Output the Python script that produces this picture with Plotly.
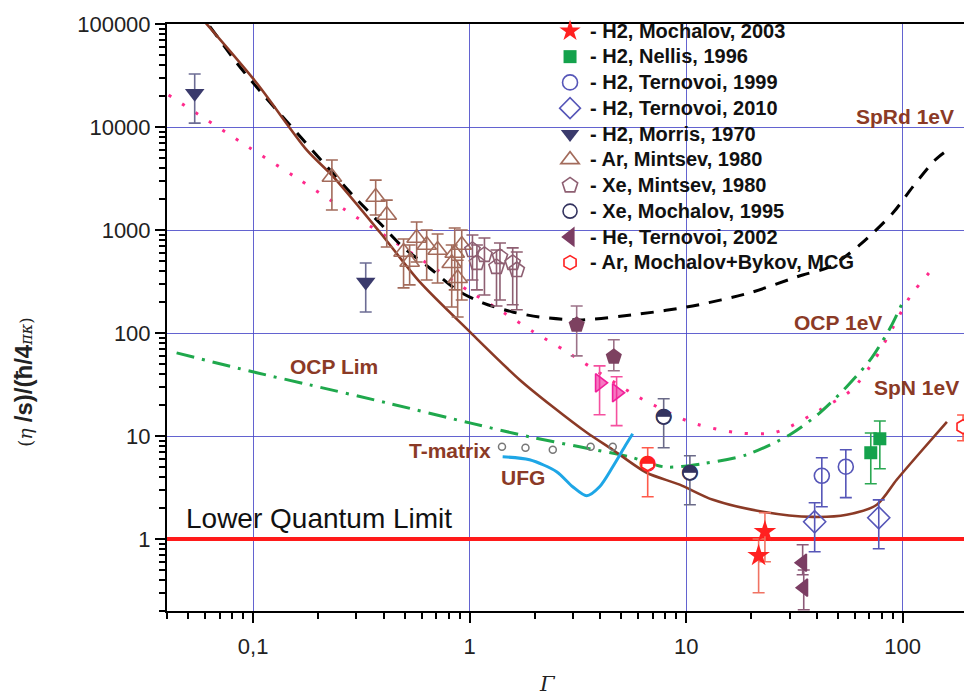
import numpy as np
import plotly.graph_objects as go

# ---------------- theory curves ----------------
SPRD_G = [0.063, 0.084, 0.104, 0.233, 0.294, 0.384, 0.491, 0.653, 0.871, 1.148, 1.58, 2.10, 3.22, 6.10, 10.7, 19.6, 34.5, 46.0, 63.3, 90.0, 111, 141, 161]
SPRD_V = [95000, 41900, 24300, 3570, 2090, 1170, 684, 428, 262, 196, 160, 143, 134, 153, 183, 245, 366, 438, 716, 1460, 2610, 4780, 5970]

SPN_G = [0.06, 0.104, 0.177, 0.233, 0.384, 0.588, 1.0, 1.70, 2.42, 3.47, 4.58, 6.57, 9.33, 13.3, 22.6, 38.4, 55.1, 75.9, 93.8, 120, 160]
SPN_V = [104000, 26600, 5960, 3340, 957, 313, 103, 35.2, 19.2, 10.8, 7.35, 4.40, 3.37, 2.40, 1.84, 1.64, 1.72, 2.15, 3.76, 6.88, 13.7]

OCP1_G = [0.0407, 0.0953, 0.159, 0.262, 0.436, 0.719, 1.01, 1.42, 1.98, 2.77, 3.32, 5.48, 6.50, 10.7, 17.7, 25.1, 30.1, 41.4, 58.1, 73.5, 89.9, 108, 141]
OCP1_V = [20400, 6380, 3200, 1600, 800, 400, 250, 160, 102, 67, 52.4, 26.8, 21.9, 13.4, 10.7, 10.7, 12.3, 17.9, 28.1, 53.7, 112, 225, 449]

OCPL_G = [0.0443, 0.0995, 0.182, 0.414, 1.0, 1.89, 3.22, 5.48, 8.0, 12.0, 19.0, 30.1, 41.4, 55.1, 71.9, 88.1, 100]
OCPL_V = [64.1, 42.0, 31.4, 21.0, 13.4, 9.82, 7.85, 6.28, 5.0, 5.4, 6.58, 10.3, 16.8, 30.1, 57.4, 115, 200]

UFG_G = [1.42, 1.89, 2.52, 2.99, 3.47, 3.98, 4.58, 5.20, 5.66]
UFG_V = [6.28, 5.88, 4.50, 3.22, 2.63, 3.22, 5.03, 7.87, 10.5]

TMAT_G = [1.41, 1.81, 2.42, 3.62, 4.58]
TMAT_V = [7.87, 7.69, 7.35, 7.87, 7.87]

LQL = 1.0
LQL_G = [0.03, 300]

# ---------------- experiments (value, upper, lower) ----------------
H2_MOCH03_G = [21.6, 23.1]
H2_MOCH03_V = [0.689, 1.18]
H2_MOCH03_HI = [1.0, 1.80]
H2_MOCH03_LO = [0.301, 0.602]

H2_NELLIS_G = [71.2, 78.4]
H2_NELLIS_V = [6.88, 9.40]
H2_NELLIS_HI = [10.7, 14.0]
H2_NELLIS_LO = [3.44, 4.81]

H2_TERN99_G = [42.3, 54.6]
H2_TERN99_V = [4.11, 5.03]
H2_TERN99_HI = [6.15, 7.35]
H2_TERN99_LO = [2.06, 2.52]

H2_TERN10_G = [39.2, 77.5]
H2_TERN10_V = [1.47, 1.61]
H2_TERN10_HI = [2.25, 2.40]
H2_TERN10_LO = [0.753, 0.805]

H2_MORRIS_G = [0.0537, 0.331]
H2_MORRIS_V = [21300, 313]
H2_MORRIS_HI = [32700, 479]
H2_MORRIS_LO = [10900, 160]

AR_MINT_G = [0.231, 0.368, 0.414, 0.495, 0.569, 0.633, 0.711, 0.853, 0.919, 0.826, 0.880, 0.528]
AR_MINT_V = [3270, 2090, 1400, 612, 836, 714, 639, 598, 714, 475, 340, 489]
AR_MINT_HI = [4780, 3050, 1950, 818, 1196, 1000, 914, 1045, 1000, 714, 508, 714]
AR_MINT_LO = [1563, 1400, 684, 274, 489, 327, 306, 262, 209, 179, 143, 293]

XE_MINT_G = [1.03, 1.08, 1.17, 1.38, 1.33, 1.58, 1.65]
XE_MINT_V = [640, 479, 573, 548, 438, 479, 409]
XE_MINT_HI = [895, 714, 837, 748, 640, 670, 612]
XE_MINT_LO = [327, 262, 234, 209, 183, 188, 168]

XE_MINT_F_G = [3.12, 4.63]
XE_MINT_F_V = [120, 58.7]
XE_MINT_F_HI = [183, 86]
XE_MINT_F_LO = [60, 43]

PINK_G = [3.98, 4.77]
PINK_V = [32.8, 26.3]
PINK_HI = [48.0, 37.6]
PINK_LO = [16.1, 12.6]

XE_MOCH95_G = [7.87, 10.4]
XE_MOCH95_V = [15.3, 4.40]
XE_MOCH95_HI = [23.0, 6.43]
XE_MOCH95_LO = [7.69, 2.15]

HE_TERN02_G = [34.5, 34.9]
HE_TERN02_V = [0.589, 0.337]
HE_TERN02_HI = [0.88, 0.50]
HE_TERN02_LO = [0.45, 0.206]

AR_MCG_G = [6.64, 190]
AR_MCG_V = [5.38, 12.3]
AR_MCG_HI = [7.69, 16.0]
AR_MCG_LO = [2.57, 9.0]

Y_TICKS = [1, 10, 100, 1000, 10000, 100000]
Y_TICKTEXT = ["1", "10", "100", "1000", "10000", "100000"]
X_TICKS = [0.1, 1, 10, 100]
X_TICKTEXT = ["0,1", "1", "10", "100"]

BROWN = "#8b3a26"
GRID = "rgba(72,72,200,0.85)"

fig = go.Figure()

def curve(g, v, color, width, dash=None):
    fig.add_trace(go.Scatter(x=g, y=v, mode="lines", showlegend=False, hoverinfo="skip",
                             line=dict(color=color, width=width, dash=dash, shape="spline", smoothing=0.8)))

curve(OCP1_G, OCP1_V, "#ff2a8c", 3, "3px,13px")
curve(OCPL_G, OCPL_V, "#1fa84c", 3, "18px,8px,3px,8px")
curve(SPRD_G, SPRD_V, "black", 3, "13px,10px")
curve(SPN_G, SPN_V, BROWN, 2.6)
curve(UFG_G, UFG_V, "#1ea6e6", 3)

fig.add_trace(go.Scatter(x=LQL_G, y=[LQL] * len(LQL_G), mode="lines", showlegend=False,
                         line=dict(color="#ff1a1a", width=4), hoverinfo="skip"))

fig.add_trace(go.Scatter(x=TMAT_G, y=TMAT_V, mode="markers", showlegend=False,
                         marker=dict(symbol="circle-open", size=7, color="#777", line=dict(width=1.5))))


def nm(s):
    return "<span style='font-size:20px'>" + s + "</span>"


def pts(name, g, v, hi, lo, symbol, size, color, ecolor, legend=True, line_w=1.6, fill=None):
    v = np.array(v, dtype=float)
    ep = np.array(hi, dtype=float) - v
    em = v - np.array(lo, dtype=float)
    marker = dict(symbol=symbol, size=size, color=fill if fill else color,
                  line=dict(color=color, width=line_w))
    fig.add_trace(go.Scatter(
        x=g, y=v, mode="markers", name=nm(name), showlegend=legend,
        marker=marker,
        error_y=dict(type="data", symmetric=False, array=ep, arrayminus=em,
                     color=ecolor, thickness=1.6, width=6),
    ))


def half(g, v, color, size):
    # upper-half-filled circle glyph overlaid on the open marker
    fig.add_trace(go.Scatter(x=g, y=v, mode="text", text=["◓"] * len(g), showlegend=False,
                             textposition="middle center", hoverinfo="skip",
                             textfont=dict(family="DejaVu Sans", size=size, color=color)))

pts("- H2, Mochalov, 2003", H2_MOCH03_G, H2_MOCH03_V, H2_MOCH03_HI, H2_MOCH03_LO,
    "star", 17, "#ff2020", "#f07363", line_w=0)
pts("- H2, Nellis, 1996", H2_NELLIS_G, H2_NELLIS_V, H2_NELLIS_HI, H2_NELLIS_LO,
    "square", 13, "#14a24c", "#2aa852", line_w=0)
pts("- H2, Ternovoi, 1999", H2_TERN99_G, H2_TERN99_V, H2_TERN99_HI, H2_TERN99_LO,
    "circle-open", 15, "#5656b8", "#5656b8")
pts("- H2, Ternovoi, 2010", H2_TERN10_G, H2_TERN10_V, H2_TERN10_HI, H2_TERN10_LO,
    "diamond-open", 17, "#5656b8", "#5656b8")
pts("- H2, Morris, 1970", H2_MORRIS_G, H2_MORRIS_V, H2_MORRIS_HI, H2_MORRIS_LO,
    "triangle-down", 17, "#3a3a6c", "#6c6c94", line_w=0)
pts("- Ar, Mintsev, 1980", AR_MINT_G, AR_MINT_V, AR_MINT_HI, AR_MINT_LO,
    "triangle-up-open", 17, "#a36b5b", "#a36b5b")
pts("- Xe, Mintsev, 1980", XE_MINT_G, XE_MINT_V, XE_MINT_HI, XE_MINT_LO,
    "pentagon-open", 16, "#8e5f72", "#8e5f72")
pts("- Xe, Mochalov, 1995", XE_MOCH95_G, XE_MOCH95_V, XE_MOCH95_HI, XE_MOCH95_LO,
    "circle", 14, "#33335f", "#6a6a88", fill="white")
half(XE_MOCH95_G, XE_MOCH95_V, "#33335f", 21)
pts("- He, Ternovoi, 2002", HE_TERN02_G, HE_TERN02_V, HE_TERN02_HI, HE_TERN02_LO,
    "triangle-left", 15, "#7b3d63", "#8c5a78", fill="#7b3d63")
pts("- Ar, Mochalov+Bykov, MCG", AR_MCG_G, AR_MCG_V, AR_MCG_HI, AR_MCG_LO,
    "hexagon", 14, "#ff2020", "#ff5a4a", fill="white")
half(AR_MCG_G[:1], AR_MCG_V[:1], "#ff2020", 21)
pts("Xe filled", XE_MINT_F_G, XE_MINT_F_V, XE_MINT_F_HI, XE_MINT_F_LO,
    "pentagon", 17, "#7d4160", "#9c7288", legend=False, line_w=0)
pts("pink", PINK_G, PINK_V, PINK_HI, PINK_LO,
    "triangle-right", 16, "#f0209a", "#f5509f", legend=False, fill="rgba(240,32,154,0.6)")

axis_common = dict(
    type="log", showline=True, linecolor="black", linewidth=2, mirror=True,
    ticks="outside", ticklen=10, tickwidth=2, tickcolor="black",
    showgrid=True, gridcolor=GRID, gridwidth=1, zeroline=False,
    tickfont=dict(size=22, color="#222"),
)
minor_vals = [d * 10.0 ** e for e in range(-2, 6) for d in range(2, 10)]

fig.update_layout(
    width=964, height=696,
    margin=dict(l=167, r=0, t=24, b=85),
    paper_bgcolor="white", plot_bgcolor="white",
    font=dict(family="Liberation Sans, Arial, sans-serif", color="#222"),
    xaxis=dict(axis_common, range=[np.log10(0.04), 2.283], tickmode="array",
               tickvals=X_TICKS, ticktext=X_TICKTEXT, ticklabelstandoff=5,
               minor=dict(tickmode="array", tickvals=minor_vals, ticks="outside", ticklen=6,
                          tickwidth=1.5, tickcolor="black", showgrid=False)),
    yaxis=dict(axis_common, range=[np.log10(0.2), 5.0], tickmode="array",
               tickvals=Y_TICKS, ticktext=Y_TICKTEXT, mirror=False,
               minor=dict(tickmode="array", tickvals=minor_vals, ticks="outside", ticklen=6,
                          tickwidth=1.5, tickcolor="black", showgrid=False)),
    legend=dict(x=0.4806, y=1.0187, xanchor="left", yanchor="top",
                bgcolor="rgba(0,0,0,0)", borderwidth=0, itemwidth=30,
                font=dict(size=17.5, color="#111", weight="bold"), tracegroupgap=0),
    showlegend=True,
)

lab = dict(xref="paper", yref="paper", showarrow=False, xanchor="center", yanchor="middle",
           font=dict(size=21, color=BROWN, weight="bold"))
fig.add_annotation(lab, text="SpRd 1eV", x=0.926, y=0.8416)
fig.add_annotation(lab, text="OCP 1eV", x=0.842, y=0.4923)
fig.add_annotation(lab, text="SpN 1eV", x=0.884, y=0.380, xanchor="left")
fig.add_annotation(lab, text="OCP Lim", x=0.2095, y=0.4157)
fig.add_annotation(lab, text="T-matrix", x=0.355, y=0.274)
fig.add_annotation(lab, text="UFG", x=0.4467, y=0.2266)
fig.add_annotation(xref="paper", yref="paper", showarrow=False, text="Lower Quantum Limit",
                   xanchor="center", yanchor="middle",
                   x=0.1907, y=0.1584, font=dict(size=28, color="#111"))
fig.add_annotation(xref="paper", yref="paper", showarrow=False, text="<i>Γ</i>",
                   xanchor="center", yanchor="middle",
                   x=0.4768, y=-0.124, font=dict(size=21, color="#222", family="DejaVu Serif"))
fig.add_annotation(
    xref="paper", yref="paper", showarrow=False, textangle=-90,
    xanchor="center", yanchor="middle",
    x=-0.1807, y=0.390,
    text="<span style='font-family:DejaVu Serif;font-size:19px'>(<i>η</i> </span><b>/s)/(ħ/4</b>"
         "<span style='font-family:DejaVu Serif;font-size:16px'><i>πκ</i>)</span>",
    font=dict(size=24, color="#222"))

fig.write_html("out.html")
